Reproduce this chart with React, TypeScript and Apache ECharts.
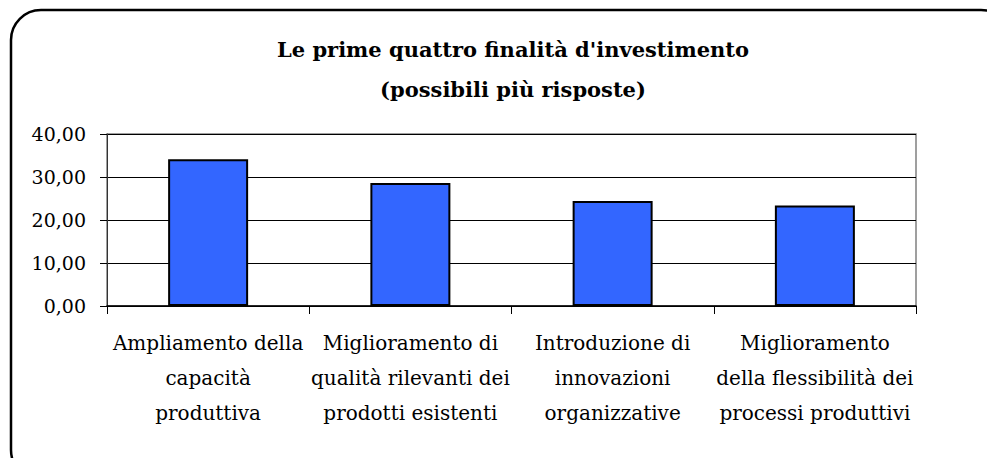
import React, { useEffect, useRef } from "react";
import * as echarts from "echarts";

const titleLines = ["Le prime quattro finalità d'investimento", "(possibili più risposte)"];
const categories = [
  "Ampliamento della\ncapacità\nproduttiva",
  "Miglioramento di\nqualità rilevanti dei\nprodotti esistenti",
  "Introduzione di\ninnovazioni\norganizzative",
  "Miglioramento\ndella flessibilità dei\nprocessi produttivi",
];
const values = [34.1, 28.6, 24.4, 23.4];
const yTicks = { min: 0, max: 40, interval: 10 };

const FONT = "'DejaVu Serif', serif";

export default function App() {
  const ref = useRef<HTMLDivElement>(null);
  useEffect(() => {
    document.body.style.margin = "0";
    const chart = echarts.init(ref.current!, null, { renderer: "svg" });
    chart.setOption({
      animation: false,
      backgroundColor: "#ffffff",
      title: {
        text: titleLines.join("\n"),
        left: 508,
        textAlign: "center",
        top: 24,
        textStyle: {
          fontFamily: FONT,
          fontWeight: "bold",
          fontSize: 21,
          lineHeight: 40,
          color: "#000",
        },
      },
      graphic: [
        {
          type: "rect",
          shape: { x: 11, y: 10, width: 1000, height: 470, r: 30 },
          style: { fill: "none", stroke: "#000", lineWidth: 2.5 },
          z: 10,
        },
      ],
      grid: {
        left: 107,
        right: 987 - 916,
        top: 134,
        bottom: 458 - 306,
        show: true,
        borderColor: "#808080",
        borderWidth: 1.5,
        backgroundColor: "#fff",
      },
      xAxis: {
        type: "category",
        data: categories,
        axisLine: { lineStyle: { color: "#000", width: 1.5 } },
        axisTick: { show: true, length: 8, interval: 0, lineStyle: { color: "#000" } },
        axisLabel: {
          interval: 0,
          margin: 19,
          fontFamily: FONT,
          fontSize: 20,
          lineHeight: 35,
          color: "#000",
        },
        splitLine: { show: false },
      },
      yAxis: {
        type: "value",
        min: yTicks.min,
        max: yTicks.max,
        interval: yTicks.interval,
        axisLine: { show: true, lineStyle: { color: "#333", width: 1 } },
        axisTick: { show: true, length: 7, lineStyle: { color: "#000" } },
        axisLabel: {
          margin: 21,
          fontFamily: FONT,
          fontSize: 19,
          color: "#000",
          formatter: (v: number) => v.toFixed(2).replace(".", ","),
        },
        splitLine: { show: true, lineStyle: { color: "#000", width: 1 } },
      },
      series: [
        {
          type: "bar",
          data: values,
          barWidth: 80,
          itemStyle: { color: "#3366FF", borderColor: "#000", borderWidth: 2 },
        },
      ],
    });
    return () => chart.dispose();
  }, []);
  return (
    <div
      ref={ref}
      style={{ position: "absolute", left: 0, top: 0, width: 987, height: 458 }}
    />
  );
}
